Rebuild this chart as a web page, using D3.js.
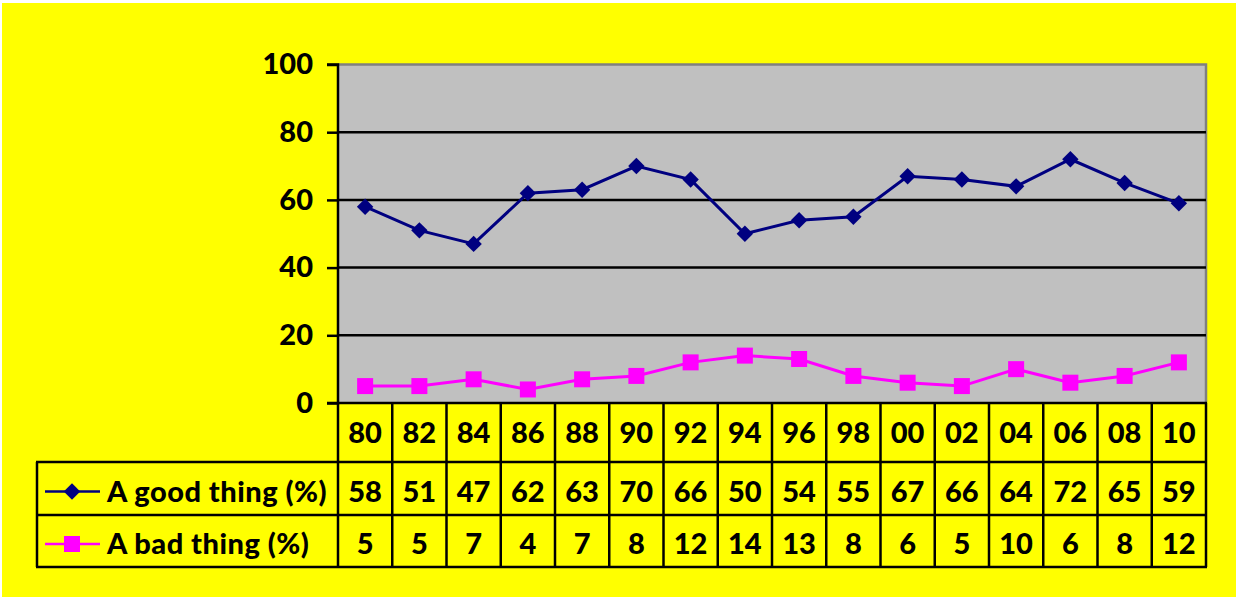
<!DOCTYPE html>
<html>
<head>
<meta charset="utf-8">
<script src="https://cdn.jsdelivr.net/npm/d3@7"></script>
<style>
    body { margin: 0; background: #fff; }
    text { font-family: Lato, "Open Sans", sans-serif; font-weight: 900; fill: #000; }
</style>
</head>
<body>
<div id="chart"></div>
<script>
// data
var years = ["80", "82", "84", "86", "88", "90", "92", "94", "96", "98", "00", "02", "04", "06", "08", "10"];
var goodThing = [58, 51, 47, 62, 63, 70, 66, 50, 54, 55, 67, 66, 64, 72, 65, 59];
var badThing = [5, 5, 7, 4, 7, 8, 12, 14, 13, 8, 6, 5, 10, 6, 8, 12];
var yTicks = [0, 20, 40, 60, 80, 100];

var svgWidth = 1237;
var svgHeight = 598;
var fontSize = 29;

// plot area
var plot = { left: 338, right: 1206, top: 64.5, bottom: 403 };
// table rows below plot
var rowCat = 462, rowGood = 515, rowBad = 567;
var tableLeft = 37;

var svg = d3.select("#chart")
    .append("svg")
    .attr("width", svgWidth)
    .attr("height", svgHeight);

// yellow background
svg.append("rect")
    .attr("x", 2).attr("y", 3)
    .attr("width", svgWidth - 3).attr("height", svgHeight - 4)
    .attr("fill", "#ffff00");

var x = d3.scaleBand()
    .domain(years)
    .range([plot.left, plot.right])
    .padding(0);

var y = d3.scaleLinear()
    .domain([0, 100])
    .range([plot.bottom, plot.top]);

// gray plot area
svg.append("rect")
    .attr("x", plot.left).attr("y", plot.top)
    .attr("width", plot.right - plot.left).attr("height", plot.bottom - plot.top)
    .attr("fill", "#c0c0c0");

// gray border top & right
svg.append("path")
    .attr("d", `M${plot.left},${plot.top}H${plot.right}V${plot.bottom}`)
    .attr("fill", "none")
    .attr("stroke", "#808080")
    .attr("stroke-width", 2.5);

// gridlines
svg.append("g")
    .selectAll("line")
    .data(yTicks.filter(d => d > 0 && d < 100))
    .enter()
    .append("line")
    .attr("x1", plot.left).attr("x2", plot.right)
    .attr("y1", d => y(d)).attr("y2", d => y(d))
    .attr("stroke", "#000")
    .attr("stroke-width", 2.5);

// left axis
var leftAxis = d3.axisLeft(y)
    .tickValues(yTicks)
    .tickSize(11)
    .tickPadding(14);

var yAxis = svg.append("g")
    .attr("transform", `translate(${plot.left}, 0)`)
    .call(leftAxis);
yAxis.select(".domain").attr("stroke", "#000").attr("stroke-width", 2.5)
    .attr("d", `M-11,${plot.top}H0V${plot.bottom}H-11`);
yAxis.selectAll(".tick line").attr("stroke", "#000").attr("stroke-width", 2.5);
yAxis.selectAll(".tick text")
    .attr("font-size", fontSize)
    .attr("font-family", "Lato, sans-serif")
    .attr("font-weight", 900)
    .attr("fill", "#000");

// lines
var line = d3.line()
    .x((d, i) => x(years[i]) + x.bandwidth() / 2)
    .y(d => y(d));

svg.append("path")
    .datum(goodThing)
    .attr("d", line)
    .attr("fill", "none")
    .attr("stroke", "#000080")
    .attr("stroke-width", 3);

svg.append("path")
    .datum(badThing)
    .attr("d", line)
    .attr("fill", "none")
    .attr("stroke", "#ff00ff")
    .attr("stroke-width", 3);

var diamond = d3.symbol().type(d3.symbolSquare).size(135);
var square = d3.symbol().type(d3.symbolSquare).size(256);

svg.append("g")
    .selectAll("path")
    .data(goodThing)
    .enter()
    .append("path")
    .attr("d", diamond)
    .attr("transform", (d, i) => `translate(${x(years[i]) + x.bandwidth() / 2}, ${y(d)}) rotate(45)`)
    .attr("fill", "#000080");

svg.append("g")
    .selectAll("path")
    .data(badThing)
    .enter()
    .append("path")
    .attr("d", square)
    .attr("transform", (d, i) => `translate(${x(years[i]) + x.bandwidth() / 2}, ${y(d)})`)
    .attr("fill", "#ff00ff");

// data table
var table = svg.append("g");

// horizontal borders
[rowCat, rowGood, rowBad].forEach(function (ry) {
    table.append("line")
        .attr("x1", tableLeft - 1).attr("x2", plot.right + 1)
        .attr("y1", ry).attr("y2", ry);
});
table.append("line")
    .attr("x1", plot.left).attr("x2", plot.right + 1)
    .attr("y1", plot.bottom).attr("y2", plot.bottom);

// vertical borders
table.selectAll(".vline")
    .data(years.concat(["end"]))
    .enter()
    .append("line")
    .attr("class", "vline")
    .attr("x1", (d, i) => i < years.length ? x(d) : plot.right)
    .attr("x2", (d, i) => i < years.length ? x(d) : plot.right)
    .attr("y1", plot.bottom).attr("y2", rowBad);
table.append("line")
    .attr("x1", tableLeft).attr("x2", tableLeft)
    .attr("y1", rowCat).attr("y2", rowBad);

table.selectAll("line")
    .attr("stroke", "#000")
    .attr("stroke-width", 2.5);

function cellText(values, rowTop, rowBottom, shift) {
    table.append("g")
        .selectAll("text")
        .data(values)
        .enter()
        .append("text")
        .attr("x", (d, i) => x(years[i]) + x.bandwidth() / 2)
        .attr("y", (rowTop + rowBottom) / 2 + shift)
        .attr("dy", "0.36em")
        .attr("text-anchor", "middle")
        .attr("font-size", fontSize)
        .text(d => d);
}

cellText(years, plot.bottom, rowCat, 0);
cellText(goodThing, rowCat, rowGood, 3);
cellText(badThing, rowGood, rowBad, 3);

// legend keys
var legend = [
    { label: "A good thing (%)", color: "#000080", sym: diamond, rot: 45, top: rowCat, bottom: rowGood },
    { label: "A bad thing (%)", color: "#ff00ff", sym: square, rot: 0, top: rowGood, bottom: rowBad }
];

legend.forEach(function (l) {
    var cy = (l.top + l.bottom) / 2 + 3;
    table.append("line")
        .attr("x1", 45).attr("x2", 100)
        .attr("y1", cy).attr("y2", cy)
        .attr("stroke", l.color)
        .attr("stroke-width", 2.5);
    table.append("path")
        .attr("d", l.sym)
        .attr("transform", `translate(72, ${cy}) rotate(${l.rot})`)
        .attr("fill", l.color);
    table.append("text")
        .attr("x", 107)
        .attr("y", cy)
        .attr("dy", "0.36em")
        .attr("font-size", fontSize)
        .attr("letter-spacing", 0.5)
        .text(l.label);
});
</script>
</body>
</html>
